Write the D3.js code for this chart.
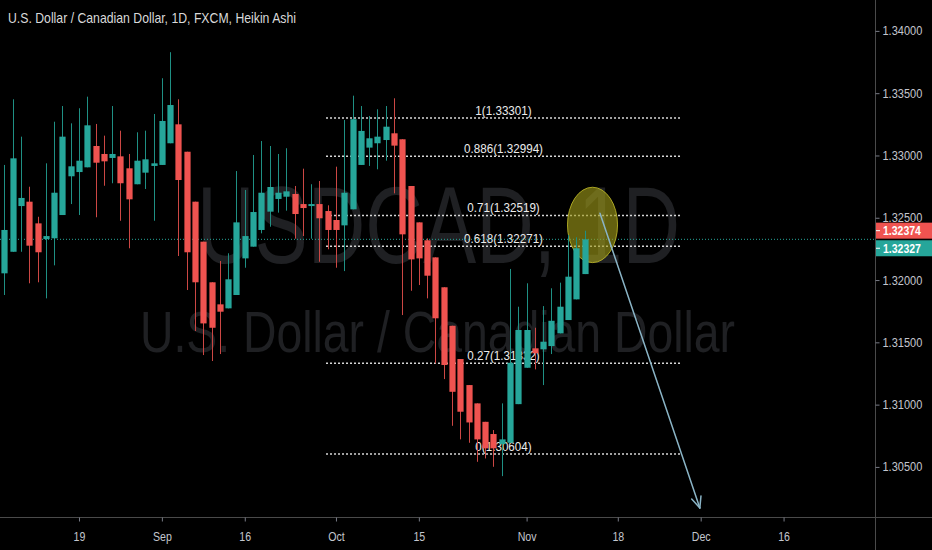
<!DOCTYPE html>
<html><head><meta charset="utf-8">
<script src="https://cdn.jsdelivr.net/npm/d3@7"></script>
<style>html,body{margin:0;padding:0;background:#000;overflow:hidden}</style>
</head><body>
<svg id="c" width="932" height="550"></svg>
<script>
// ---------------- DATA ----------------
const firstDay = "2019-08-06"; // first trading day shown (daily bars, weekdays)
const open  = [1.32054,1.32227,1.32594,1.32629,1.32455,1.32329,1.32335,1.32522,1.32833,1.32867,
               1.32905,1.33076,1.33012,1.32980,1.32993,1.32897,1.32769,1.32862,1.32916,1.32924,
               1.33098,1.33250,1.33030,1.32629,1.32308,1.31982,1.31805,1.31773,1.31880,1.32174,
               1.32268,1.32402,1.32549,1.32651,1.32669,1.32691,1.32610,1.32594,1.32610,1.32554,
               1.32482,1.32439,1.32568,1.32924,1.33063,1.33098,1.33124,1.33178,1.33130,1.32755,
               1.32463,1.32319,1.32182,1.31942,1.31633,1.31366,1.31157,1.31010,1.30862,1.30764,
               1.30683,1.30694,1.31004,1.31296,1.31452,1.31444,1.31470,1.31572,1.31679,1.31845,
               1.32048];
const high  = [1.32924,1.33451,1.33151,1.32749,1.32508,1.32937,1.33271,1.33397,1.33258,1.33379,
               1.33472,1.33253,1.33159,1.33397,1.33199,1.33012,1.33186,1.33199,1.33333,1.33620,
               1.33829,1.33451,1.33030,1.32629,1.32308,1.31982,1.32153,1.32215,1.32875,1.32723,
               1.33004,1.33116,1.33076,1.33012,1.33058,1.32755,1.32894,1.32769,1.32795,1.32600,
               1.32910,1.33285,1.33480,1.33397,1.33317,1.33371,1.33397,1.33459,1.33130,1.32755,
               1.32463,1.32335,1.32182,1.31942,1.31633,1.31366,1.31157,1.31010,1.30862,1.30796,
               1.31010,1.32089,1.31786,1.31974,1.31617,1.31791,1.31934,1.31979,1.32362,1.32343,
               1.32396];
const low   = [1.31880,1.32227,1.32227,1.31974,1.31982,1.31853,1.32118,1.32522,1.32610,1.32522,
               1.32905,1.32504,1.32757,1.32777,1.32476,1.32255,1.32769,1.32731,1.32476,1.32924,
               1.33098,1.32193,1.31920,1.31591,1.31398,1.31350,1.31406,1.31773,1.31880,1.32099,
               1.32268,1.32375,1.32428,1.32541,1.32557,1.32332,1.32353,1.32332,1.32147,1.32247,
               1.32099,1.32072,1.32568,1.32924,1.32916,1.32889,1.32958,1.32696,1.31719,1.31914,
               1.31960,1.31853,1.31331,1.31205,1.30830,1.30721,1.30694,1.30541,1.30568,1.30501,
               1.30426,1.30694,1.31004,1.31296,1.31283,1.31157,1.31406,1.31572,1.31679,1.31845,
               1.32048];
const close = [1.32402,1.32977,1.32659,1.32276,1.32223,1.32353,1.32701,1.33151,1.32913,1.32958,
               1.33242,1.32942,1.32953,1.33012,1.32777,1.32648,1.32958,1.32969,1.32937,1.33277,
               1.33405,1.32803,1.32223,1.31982,1.31652,1.31617,1.31746,1.32006,1.32463,1.32353,
               1.32546,1.32701,1.32747,1.32701,1.32712,1.32530,1.32578,1.32610,1.32496,1.32402,
               1.32402,1.32701,1.33291,1.33197,1.33138,1.33151,1.33231,1.33079,1.32367,1.32166,
               1.32174,1.32035,1.31693,1.31318,1.31103,1.30943,1.30857,1.30721,1.30649,1.30649,
               1.30721,1.31336,1.31599,1.31599,1.31412,1.31505,1.31673,1.31786,1.32027,1.32255,
               1.32327];
const tickIndex  = [9, 19, 29, 40, 50, 63, 74, 84, 94];
const tickLabels = ["19","Sep","16","Oct","15","Nov","18","Dec","16"];
const priceTicks = [1.305, 1.31, 1.315, 1.32, 1.325, 1.33, 1.335, 1.34];
const fibLevels  = [1, 0.886, 0.71, 0.618, 0.27, 0];
const fibHigh = 1.33301, fibLow = 1.30604;
const fibSpan = [38.8, 81.63];                  // bar-index span of the fib tool
const lastPrice = 1.32374;                      // real last price (red label)
const haLast = 1.32327;                         // Heikin Ashi close (teal label)
const ellipseBox = [67.93, 73.97, 1.32745, 1.32140]; // i0, i1, pTop, pBottom
const arrowPts = [[71.85, 1.32536], [83.9, 1.30171]];
const titleText = "U.S. Dollar / Canadian Dollar, 1D, FXCM, Heikin Ashi";
const wmSymbol = "USDCAD, 1D";
const wmName = "U.S. Dollar / Canadian Dollar";

// ---------------- LAYOUT ----------------
const W = 932, H = 550, PR = 875, PB = 517;
const UP = "#26a69a", DN = "#ef5350";
const FONT = "'Liberation Sans', Arial, sans-serif";
const svg = d3.select("#c");
svg.append("rect").attr("width", W).attr("height", H).attr("fill", "#000");

const x = d3.scaleLinear().domain([-0.53, 105.03]).range([0, PR]);
const y = d3.scaleLinear().domain([1.30098, 1.34248]).range([PB, 0]);

svg.append("clipPath").attr("id", "plot").append("rect")
  .attr("width", PR).attr("height", PB);
const plot = svg.append("g").attr("clip-path", "url(#plot)");

function squeeze(sel, f) {
  sel.each(function () {
    const w = this.getComputedTextLength();
    d3.select(this).attr("textLength", w * f).attr("lengthAdjust", "spacingAndGlyphs");
  });
}

// watermark
plot.append("text").text(wmSymbol)
  .attr("x", 197).attr("y", 263).attr("font-family", FONT).attr("font-size", 110)
  .attr("fill", "#1f2023").attr("textLength", 483).attr("lengthAdjust", "spacingAndGlyphs");
plot.append("text").text(wmName)
  .attr("x", 140).attr("y", 352).attr("font-family", FONT).attr("font-size", 57)
  .attr("fill", "#1f2023").attr("textLength", 595).attr("lengthAdjust", "spacingAndGlyphs");

// fib retracement
const fib = plot.append("g");
fibLevels.forEach(lv => {
  const p = fibLow + lv * (fibHigh - fibLow);
  fib.append("line")
    .attr("x1", x(fibSpan[0])).attr("x2", x(fibSpan[1]))
    .attr("y1", y(p)).attr("y2", y(p))
    .attr("stroke", "#d6d6d6").attr("stroke-width", 1.5).attr("stroke-dasharray", "2,2");
  const t = fib.append("text").text(lv + "(" + p.toFixed(5) + ")")
    .attr("x", (x(fibSpan[0]) + x(fibSpan[1])) / 2).attr("y", y(p) - 3)
    .attr("text-anchor", "middle").attr("font-family", FONT).attr("font-size", 12)
    .attr("fill", "#ececec");
  squeeze(t, 0.97);
});

// Heikin Ashi close line
plot.append("line").attr("x1", 0).attr("x2", PR)
  .attr("y1", y(haLast)).attr("y2", y(haLast))
  .attr("stroke", UP).attr("stroke-width", 1).attr("stroke-dasharray", "1,2");

// highlight ellipse
plot.append("ellipse")
  .attr("cx", (x(ellipseBox[0]) + x(ellipseBox[1])) / 2)
  .attr("cy", (y(ellipseBox[2]) + y(ellipseBox[3])) / 2)
  .attr("rx", (x(ellipseBox[1]) - x(ellipseBox[0])) / 2)
  .attr("ry", (y(ellipseBox[3]) - y(ellipseBox[2])) / 2)
  .attr("fill", "rgba(160,155,25,0.62)").attr("stroke", "rgba(190,185,40,0.85)").attr("stroke-width", 1);

// candles
const bars = d3.range(open.length).map(i => ({ i, o: open[i], h: high[i], l: low[i], c: close[i] }));
const bw = 6.2;
const cg = plot.append("g");
cg.selectAll("line.w").data(bars).join("line").attr("class", "w")
  .attr("x1", d => Math.round(x(d.i)) + 0.5).attr("x2", d => Math.round(x(d.i)) + 0.5)
  .attr("y1", d => y(d.h)).attr("y2", d => y(d.l))
  .attr("stroke", d => d.c >= d.o ? "#1f9084" : "#cc4744").attr("stroke-width", 1);
cg.selectAll("rect.b").data(bars).join("rect").attr("class", "b")
  .attr("x", d => Math.round(x(d.i)) + 0.5 - bw / 2)
  .attr("width", bw)
  .attr("y", d => y(Math.max(d.o, d.c)))
  .attr("height", d => Math.max(1.5, Math.abs(y(d.o) - y(d.c))))
  .attr("fill", d => d.c >= d.o ? UP : DN);

// arrow
const a0 = [x(arrowPts[0][0]), y(arrowPts[0][1])], a1 = [x(arrowPts[1][0]), y(arrowPts[1][1])];
const ang = Math.atan2(a0[1] - a1[1], a0[0] - a1[0]);
const ag = plot.append("g").attr("stroke", "#8ab4c6").attr("stroke-width", 1.5).attr("fill", "none")
  .attr("stroke-linecap", "round");
ag.append("line").attr("x1", a0[0]).attr("y1", a0[1]).attr("x2", a1[0]).attr("y2", a1[1]);
[-0.42, 0.42].forEach(da => {
  ag.append("line").attr("x1", a1[0]).attr("y1", a1[1])
    .attr("x2", a1[0] + 12 * Math.cos(ang + da)).attr("y2", a1[1] + 12 * Math.sin(ang + da));
});

// axes frame
svg.append("line").attr("x1", 0).attr("x2", W).attr("y1", PB + 0.5).attr("y2", PB + 0.5)
  .attr("stroke", "#4a4a4a");
svg.append("line").attr("x1", PR + 0.5).attr("x2", PR + 0.5).attr("y1", 0).attr("y2", H)
  .attr("stroke", "#4a4a4a");

// price axis
const ya = svg.append("g").attr("transform", `translate(${PR + 0.5},0)`)
  .call(d3.axisRight(y).tickValues(priceTicks).tickSize(4).tickPadding(3).tickFormat(d3.format(".5f")));
ya.select(".domain").remove();
ya.selectAll(".tick line").attr("stroke", "#787b86");
ya.selectAll(".tick text").attr("fill", "#c3c6ce").attr("font-family", FONT).attr("font-size", 12.5);
squeeze(ya.selectAll(".tick text"), 0.88);

// time axis
const xa = svg.append("g").attr("transform", `translate(0,${PB + 0.5})`)
  .call(d3.axisBottom(x).tickValues(tickIndex).tickSize(4).tickPadding(11)
    .tickFormat((d, i) => tickLabels[i]));
xa.select(".domain").remove();
xa.selectAll(".tick line").attr("stroke", "#787b86");
xa.selectAll(".tick text").attr("fill", "#c3c6ce").attr("font-family", FONT).attr("font-size", 12.5);
squeeze(xa.selectAll(".tick text"), 0.85);

// last price labels
const redC = y(lastPrice) - 2.8;
const labels = [
  { v: lastPrice, col: DN, top: redC - 8 },
  { v: haLast, col: UP, top: redC - 8 + 17.6 }
];
labels.forEach(L => {
  svg.append("rect").attr("x", PR + 1).attr("y", L.top).attr("width", W - PR - 1).attr("height", 16)
    .attr("fill", L.col);
  svg.append("line").attr("x1", PR + 1).attr("x2", PR + 5).attr("y1", L.top + 8).attr("y2", L.top + 8)
    .attr("stroke", "#fff");
  const t = svg.append("text").text(d3.format(".5f")(L.v))
    .attr("x", PR + 8).attr("y", L.top + 12.5).attr("font-family", FONT).attr("font-size", 12.5)
    .attr("font-weight", "bold").attr("fill", "#fff");
  squeeze(t, 0.84);
});

// title
svg.append("text").text(titleText)
  .attr("x", 8).attr("y", 23).attr("font-family", FONT).attr("font-size", 15)
  .attr("fill", "#d9d9d9").attr("textLength", 288).attr("lengthAdjust", "spacingAndGlyphs");
</script>
</body></html>
